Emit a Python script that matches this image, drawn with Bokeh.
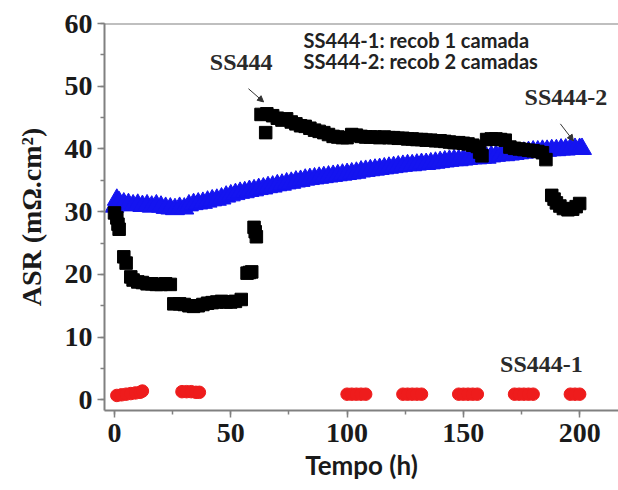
from bokeh.plotting import figure
from bokeh.models import Range1d, SingleIntervalTicker, Span, Label, Arrow, NormalHead
from bokeh.embed import file_html
from bokeh.resources import INLINE

# ---------------- data ----------------
# SS444 (black squares)
ss444_t = [0, 1, 1.5, 2, 4, 5, 7, 8, 10, 12, 14, 16, 18, 20, 22, 24,
           25.5, 28, 30, 32, 34, 36, 38, 40, 42, 44, 46, 48, 50, 52, 54.5,
           57, 58, 59, 60, 60.5, 61, 65,
           63, 65.5, 68, 70, 72, 74, 76, 78, 80, 82, 84, 86, 88, 90, 92, 94, 96, 98,
           100, 102, 104, 106, 108, 110, 112, 114, 116, 118, 120, 122, 124, 126,
           128, 130, 132, 134, 136, 138, 140, 142, 144, 146, 148, 150, 152, 154, 156,
           157, 158, 160, 162, 164, 166, 168, 170, 172, 174, 176, 178, 180, 182, 184,
           185.5, 188, 189, 190, 191.5, 193, 195, 197, 198.5, 200]
ss444_v = [29.8, 29.0, 28.0, 27.2, 22.8, 21.8, 19.6, 19.1, 18.8, 18.7, 18.5, 18.5, 18.4, 18.4, 18.5, 18.4,
           15.3, 15.3, 15.2, 15.0, 14.9, 15.0, 15.2, 15.4, 15.5, 15.6, 15.7, 15.6, 15.6, 15.7, 16.0,
           20.2, 20.3, 20.4, 27.5, 26.8, 26.0, 42.6,
           45.5, 45.6, 45.3, 44.9, 44.6, 44.8, 44.3, 44.0, 43.7, 43.6, 43.3, 43.0, 42.8, 42.6, 42.3, 42.0, 41.9, 41.8,
           41.8, 42.3, 42.2, 42.0, 41.9, 41.9, 41.9, 41.8, 41.9, 41.8, 41.8, 41.7, 41.7, 41.6,
           41.6, 41.5, 41.5, 41.4, 41.4, 41.3, 41.3, 41.2, 41.1, 41.0, 41.0, 40.9, 40.8, 40.6, 40.4,
           39.5, 38.9, 41.5, 41.6, 41.6, 41.5, 41.4, 40.3, 40.1, 40.0, 39.9, 39.8, 39.7, 39.6, 39.4,
           38.3, 32.6, 32.0, 31.4, 30.9, 30.5, 30.3, 30.4, 30.8, 31.3]

# SS444-2 (blue triangles)
ss444_2_t = [0, 1, 2, 4, 6, 8, 10, 12, 14, 16, 18, 20, 22, 24, 26, 28, 30, 32, 34, 36, 38,
             40, 42, 44, 46, 48, 50, 52, 54, 56, 58, 60, 62, 64, 66, 68, 70, 72, 74, 76, 78,
             80, 82, 84, 86, 88, 90, 92, 94, 96, 98, 100, 102, 104, 106, 108, 110, 112, 114,
             116, 118, 120, 122, 124, 126, 128, 130, 132, 134, 136, 138, 140, 142, 144, 146,
             148, 150, 152, 154, 156, 158, 160, 162, 164, 166, 168, 170, 172, 174, 176, 178,
             180, 182, 184, 186, 188, 190, 192, 194, 196, 198, 200, 201]
ss444_2_v = [30.8, 31.9, 31.5, 31.3, 31.2, 31.0, 31.1, 30.9, 31.0, 30.8, 31.0, 30.8, 30.6, 30.5, 30.4, 30.6, 30.5, 31.0, 31.2, 31.3, 31.4,
             31.6, 31.8, 31.9, 32.1, 32.4, 32.6, 32.8, 33.0, 33.1, 33.3, 33.4, 33.6, 33.7, 33.9, 34.0, 34.2, 34.3, 34.5, 34.6, 34.8,
             34.9, 35.1, 35.2, 35.3, 35.4, 35.5, 35.6, 35.7, 35.8, 35.9, 36.0, 36.1, 36.2, 36.4, 36.5, 36.6, 36.7, 36.8,
             36.9, 37.0, 37.1, 37.2, 37.3, 37.4, 37.4, 37.5, 37.6, 37.6, 37.7, 37.8, 37.9, 38.0, 38.1, 38.2,
             38.2, 38.3, 38.4, 38.5, 38.5, 38.6, 38.6, 38.8, 38.9, 39.0, 39.0, 39.1, 39.2, 39.3, 39.4, 39.5,
             39.6, 39.6, 39.7, 39.7, 39.8, 39.8, 39.9, 39.9, 40.0, 40.0, 40.0, 40.0]

# SS444-1 (red circles)
ss444_1_t = [1, 3, 5, 7, 9, 11, 12,
             29, 31, 33, 35, 36.5,
             100, 102, 104, 106, 108,
             124, 126, 128, 130, 132,
             148, 150, 152, 154, 156,
             172, 174, 176, 178, 180,
             196, 198, 200]
ss444_1_v = [0.7, 0.8, 0.9, 1.0, 1.1, 1.2, 1.4,
             1.3, 1.3, 1.3, 1.2, 1.2,
             0.9, 0.9, 0.9, 0.9, 0.9,
             0.9, 0.9, 0.9, 0.9, 0.9,
             0.9, 0.9, 0.9, 0.9, 0.9,
             0.9, 0.9, 0.9, 0.9, 0.9,
             0.9, 0.9, 0.9]

x_label = "Tempo (h)"
y_label = "ASR (mΩ.cm²)"
note_1 = "SS444-1: recob 1 camada"
note_2 = "SS444-2: recob 2 camadas"

# ---------------- figure ----------------
AX = "#808080"
p = figure(frame_width=514, frame_height=387,
           x_range=Range1d(-4.3, 216.7), y_range=Range1d(-1.7, 60),
           output_backend="svg", toolbar_location=None,
           min_border_left=104, min_border_right=0, min_border_top=23, min_border_bottom=70)
p.outline_line_color = None
p.xgrid.visible = False
p.ygrid.visible = False
p.background_fill_color = "white"

p.xaxis.ticker = SingleIntervalTicker(interval=50, num_minor_ticks=2)
p.yaxis.ticker = SingleIntervalTicker(interval=10, num_minor_ticks=2)
for ax in (p.xaxis[0], p.yaxis[0]):
    ax.axis_line_color = AX
    ax.axis_line_width = 2
    ax.major_tick_line_color = AX
    ax.minor_tick_line_color = AX
    ax.major_tick_line_width = 1.5
    ax.minor_tick_line_width = 1.5
    ax.major_tick_in = 0
    ax.major_tick_out = 7
    ax.minor_tick_in = 0
    ax.minor_tick_out = 4
    ax.major_label_text_font = "Liberation Serif"
    ax.major_label_text_font_style = "bold"
    ax.major_label_text_font_size = "28px"
    ax.major_label_text_color = "#1a1a1a"

p.xaxis.major_label_standoff = 6
p.yaxis.major_label_standoff = 5
p.xaxis.axis_label = x_label
p.xaxis.axis_label_text_font = "Lato"
p.xaxis.axis_label_text_font_style = "bold"
p.xaxis.axis_label_text_font_size = "26px"
p.xaxis.axis_label_text_color = "#1a1a1a"
p.xaxis.axis_label_standoff = 4
p.yaxis.axis_label = y_label
p.yaxis.axis_label_text_font = "Liberation Serif"
p.yaxis.axis_label_text_font_style = "bold"
p.yaxis.axis_label_text_font_size = "28px"
p.yaxis.axis_label_text_color = "#1a1a1a"
p.yaxis.axis_label_standoff = 15

p.add_layout(Span(location=60, dimension="width", line_color=AX, line_width=2))

# series
p.scatter(ss444_2_t, ss444_2_v, marker="triangle", size=19, color="#1414f0")
p.scatter(ss444_t, ss444_v, marker="square", size=12.5, color="black")
p.scatter(ss444_1_t, ss444_1_v, marker="circle", size=12.5, color="#ee1c1c")

# annotations
lab_kw = dict(text_font="Liberation Serif", text_font_style="bold", text_font_size="24px",
              text_color="#2a2a2a")
p.add_layout(Label(x=41.0, y=51.8, text="SS444", **lab_kw))
p.add_layout(Label(x=176.3, y=46.2, text="SS444-2", **lab_kw))
p.add_layout(Label(x=165.8, y=3.6, text="SS444-1", **lab_kw))
note_kw = dict(text_font="Lato", text_font_style="bold", text_font_size="20px", text_color="#222222")
p.add_layout(Label(x=81.3, y=55.5, text=note_1, **note_kw))
p.add_layout(Label(x=81.3, y=52.1, text=note_2, **note_kw))

p.add_layout(Arrow(end=NormalHead(size=6, fill_color="#333333", line_color="#333333"),
                   x_start=57.6, y_start=49.6, x_end=64.1, y_end=47.5,
                   line_color="#333333", line_width=1))
p.add_layout(Arrow(end=NormalHead(size=6, fill_color="#333333", line_color="#333333"),
                   x_start=191.7, y_start=44.0, x_end=197.3, y_end=41.3,
                   line_color="#333333", line_width=1))

open("out.html", "w").write(file_html(p, INLINE))
